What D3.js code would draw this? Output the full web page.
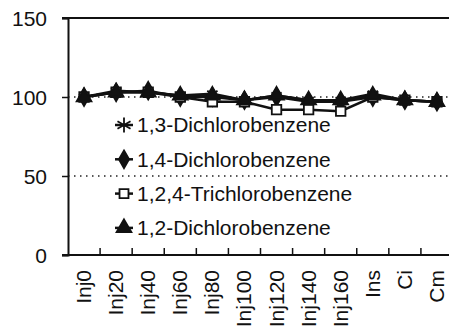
<!DOCTYPE html>
<html>
<head>
<meta charset="utf-8">
<script src="https://cdn.jsdelivr.net/npm/d3@7"></script>
<style>
body { margin: 0; background: #fff; }
text { font-family: "Liberation Sans", Arial, sans-serif; fill: #111; }
</style>
</head>
<body>
<div id="chart"></div>
<script>
// samples along the x axis
var categories = ["Inj0", "Inj20", "Inj40", "Inj60", "Inj80", "Inj100", "Inj120", "Inj140", "Inj160", "Ins", "Ci", "Cm"];
var yTicks = [0, 50, 100, 150];
var seriesNames = ["1,3-Dichlorobenzene", "1,4-Dichlorobenzene", "1,2,4-Trichlorobenzene", "1,2-Dichlorobenzene"];
var dcb13 = [100, 104, 103, 101, 102, 98, 101, 98, 98, 102, 98, 97];
var dcb14 = [100, 103, 104, 100, 100, 98, 100, 97, 97, 100, 98, 97];
var tcb124 = [100, 103, 103, 100, 97, 97, 92, 92, 91, 100, 98, 97];
var dcb12 = [100, 103, 103, 101, 101, 98, 101, 98, 98, 101, 98, 97];
var refLines = [50, 100];

var W = 449, H = 334,
    mLeft = 68, mTop = 18, mBottom = 255, mRight = 453;

var svg = d3.select("#chart").append("svg").attr("width", W).attr("height", H);

var x = d3.scaleBand().domain(categories).range([mLeft, mRight]);
var y = d3.scaleLinear().domain([0, 150]).range([mBottom, mTop]);

// dotted reference lines
svg.selectAll(".ref").data(refLines).enter().append("line")
    .attr("x1", mLeft).attr("x2", mRight)
    .attr("y1", function (d) { return y(d) }).attr("y2", function (d) { return y(d) })
    .attr("stroke", "#222").attr("stroke-width", 1.5).attr("stroke-dasharray", "1.5,4.5");

// frame top
svg.append("line").attr("x1", mLeft - 6).attr("x2", W).attr("y1", mTop).attr("y2", mTop)
    .attr("stroke", "#111").attr("stroke-width", 2);

// y axis
var yAxis = svg.append("g").attr("transform", "translate(" + mLeft + ",0)")
    .call(d3.axisLeft(y).tickValues(yTicks).tickSize(6).tickPadding(15));
yAxis.select(".domain").attr("stroke", "#111").attr("stroke-width", 2);
yAxis.selectAll("line").attr("stroke", "#111").attr("stroke-width", 1.5);
yAxis.selectAll("text").style("font-size", "21px").attr("fill", "#111").attr("dy", "0.35em");

// x axis: ticks between categories, pointing into the plot
var boundaries = categories.map(function (c) { return x(c) + x.bandwidth() });
var xg = svg.append("g");
xg.append("line").attr("x1", mLeft - 6).attr("x2", W).attr("y1", mBottom).attr("y2", mBottom)
    .attr("stroke", "#111").attr("stroke-width", 2);
xg.selectAll(".xt").data(boundaries).enter().append("line")
    .attr("x1", function (d) { return d }).attr("x2", function (d) { return d })
    .attr("y1", mBottom).attr("y2", mBottom - 7)
    .attr("stroke", "#111").attr("stroke-width", 1.5);
xg.selectAll(".xl").data(categories).enter().append("text")
    .attr("transform", function (d) { return "translate(" + (x(d) + x.bandwidth() / 2 + 7) + "," + (mBottom + 15) + ") rotate(-90)" })
    .attr("text-anchor", "end").style("font-size", "21px").text(function (d) { return d });

var series = [
    { name: seriesNames[0], values: dcb13, symbol: d3.symbolAsterisk, size: 100, legSize: 160, fill: "none" },
    { name: seriesNames[1], values: dcb14, symbol: d3.symbolDiamond, size: 90, legSize: 90, fill: "#111" },
    { name: seriesNames[2], values: tcb124, symbol: d3.symbolSquare, size: 90, legSize: 80, fill: "#fff" },
    { name: seriesNames[3], values: dcb12, symbol: d3.symbolTriangle, size: 95, legSize: 95, fill: "#111" }
];

var line = d3.line()
    .x(function (d, i) { return x(categories[i]) + x.bandwidth() / 2 })
    .y(function (d) { return y(d) });

series.forEach(function (s) {
    svg.append("path").datum(s.values).attr("d", line)
        .attr("fill", "none").attr("stroke", "#111").attr("stroke-width", 2.5);
});
series.forEach(function (s) {
    svg.selectAll(null).data(s.values).enter().append("path")
        .attr("transform", function (d, i) { return "translate(" + (x(categories[i]) + x.bandwidth() / 2) + "," + y(d) + ")" })
        .attr("d", d3.symbol().type(s.symbol).size(s.size))
        .attr("fill", s.fill).attr("stroke", "#111").attr("stroke-width", 1.8);
});

// legend inside plot
var lg = svg.selectAll(".leg").data(series).enter().append("g")
    .attr("transform", function (d, i) { return "translate(124," + (125 + i * 34.3) + ")" });
lg.append("line").attr("x1", -9).attr("x2", 9).attr("stroke", "#111").attr("stroke-width", 2.5);
lg.append("path").attr("d", function (d) { return d3.symbol().type(d.symbol).size(d.legSize)() })
    .attr("fill", function (d) { return d.fill }).attr("stroke", "#111").attr("stroke-width", 1.8);
lg.append("text").attr("x", 13).attr("dy", "0.35em").style("font-size", "21px")
    .text(function (d) { return d.name });
</script>
</body>
</html>
